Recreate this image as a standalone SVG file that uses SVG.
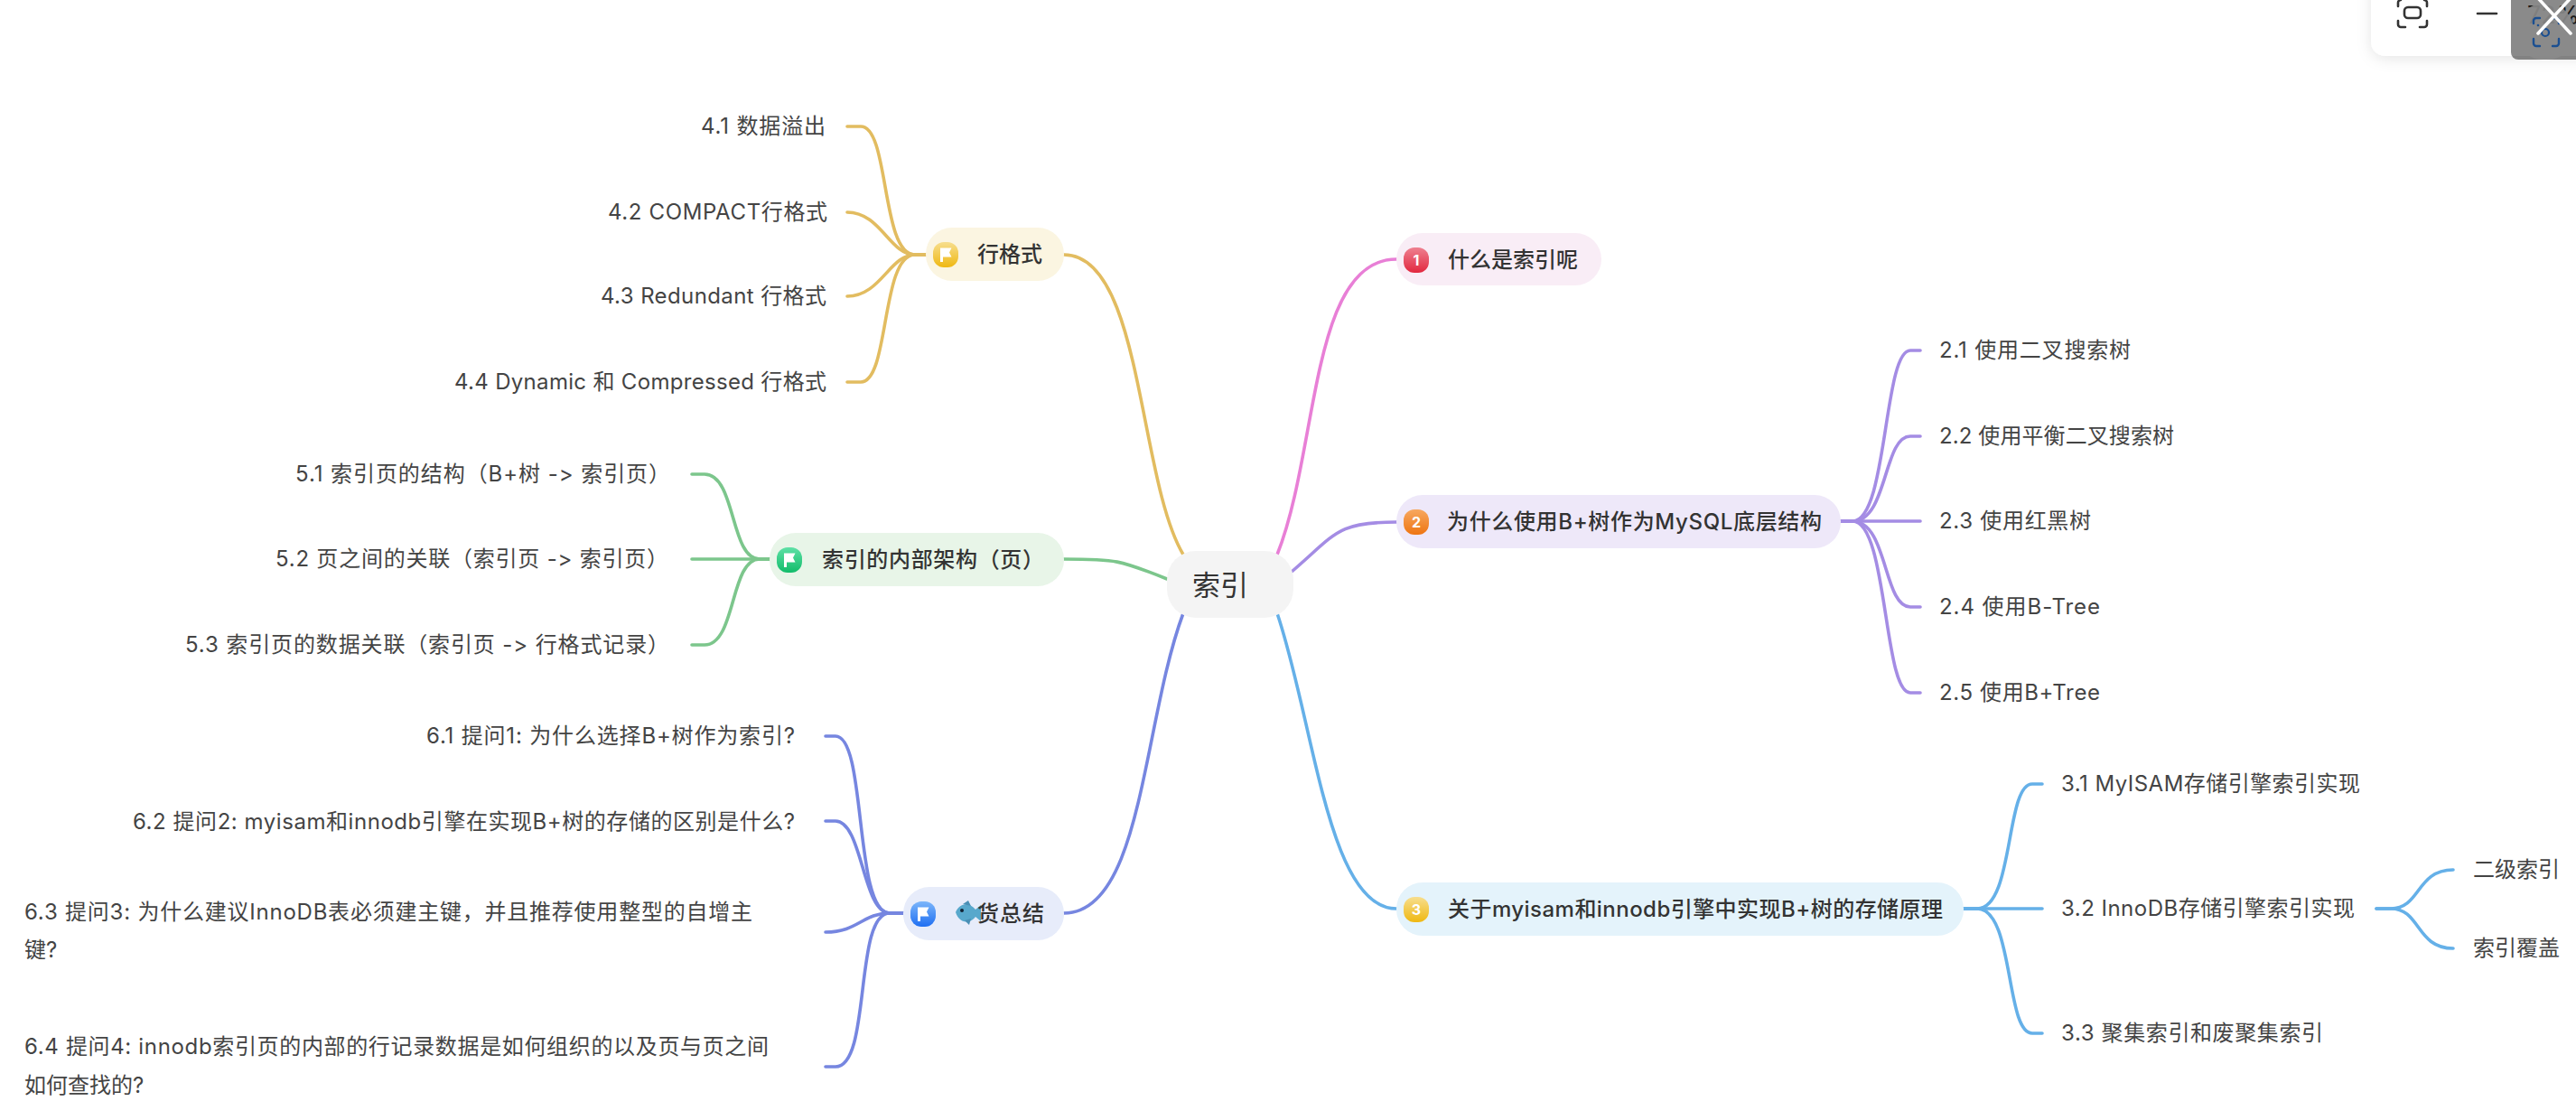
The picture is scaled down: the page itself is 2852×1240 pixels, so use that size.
<svg xmlns="http://www.w3.org/2000/svg" width="2852" height="1240" viewBox="0 0 2852 1240">
<style>
text{font-family:"Inter","Noto Sans CJK SC",sans-serif;fill:#444;font-size:24px;font-feature-settings:"calt" 0,"liga" 0;font-variant-ligatures:none}
.n{font-weight:500;fill:#333}
.c{fill:none;stroke-width:3.6;stroke-linecap:round}
.y{stroke:#E2BC60}.g{stroke:#7CC68C}.i{stroke:#7686E0}.p{stroke:#E87FD6}.v{stroke:#A48CE4}.b{stroke:#65B0E8}
.nt{fill:#fff;font-size:16px;font-weight:700;text-anchor:middle}
</style>
<defs>
<linearGradient id="gy" x1="0" y1="0" x2="0" y2="1"><stop offset="0" stop-color="#F7DE8E"/><stop offset="1" stop-color="#EFB812"/></linearGradient>
<linearGradient id="gg" x1="0" y1="0" x2="0" y2="1"><stop offset="0" stop-color="#5FE0A6"/><stop offset="1" stop-color="#12BC6A"/></linearGradient>
<linearGradient id="gb" x1="0" y1="0" x2="0" y2="1"><stop offset="0" stop-color="#7CB6FA"/><stop offset="1" stop-color="#1F6FF2"/></linearGradient>
<linearGradient id="gr" x1="0" y1="0" x2="0" y2="1"><stop offset="0" stop-color="#EE8090"/><stop offset="1" stop-color="#E2283F"/></linearGradient>
<linearGradient id="go" x1="0" y1="0" x2="0" y2="1"><stop offset="0" stop-color="#F7A860"/><stop offset="1" stop-color="#EE7512"/></linearGradient>
<filter id="sh" x="-20%" y="-50%" width="140%" height="220%"><feDropShadow dx="0" dy="3" stdDeviation="8" flood-color="#000" flood-opacity=".1"/></filter>
<path id="flag" d="M-6 -7.5H6.5L4 -2.5L6.5 2.5H-3V8H-6Z" fill="#fff"/>
</defs>
<rect width="2852" height="1240" fill="#fff"/>

<g id="connectors">
<path class="c y" d="M1178 282C1265 282 1260 530 1310 614"/>
<path class="c y" d="M1025 282H1013C975 282 985 140 953 140H938"/>
<path class="c y" d="M1025 282H1013C985 282 975 235 938 235"/>
<path class="c y" d="M1025 282H1013C985 282 975 328 938 328"/>
<path class="c y" d="M1025 282H1013C975 282 985 423 953 423H938"/>
<path class="c g" d="M1178 619C1235 619 1240 620 1292 641"/>
<path class="c g" d="M852 619H841C808 619 815 525 780 525H766"/>
<path class="c g" d="M852 619H766"/>
<path class="c g" d="M852 619H841C808 619 815 714 780 714H766"/>
<path class="c i" d="M1178 1011C1265 1011 1265 800 1310 679"/>
<path class="c i" d="M1000 1011H985C945 1011 960 815 925 815H914"/>
<path class="c i" d="M1000 1011H985C955 1011 955 909 925 909H914"/>
<path class="c i" d="M1000 1011H985C955 1011 950 1032 914 1032"/>
<path class="c i" d="M1000 1011H985C945 1011 965 1181 925 1181H914"/>
<path class="c p" d="M1414 614C1460 500 1450 287 1546 287"/>
<path class="c v" d="M1430 633C1480 590 1480 578 1546 578"/>
<path class="c v" d="M2038 577H2051C2090 577 2085 388 2115 388H2126"/>
<path class="c v" d="M2038 577H2051C2090 577 2085 483 2115 483H2126"/>
<path class="c v" d="M2038 577H2126"/>
<path class="c v" d="M2038 577H2051C2090 577 2085 672 2115 672H2126"/>
<path class="c v" d="M2038 577H2051C2090 577 2085 767 2115 767H2126"/>
<path class="c b" d="M1414 679C1455 800 1470 1006 1546 1006"/>
<path class="c b" d="M2174 1006H2189C2230 1006 2220 868 2250 868H2261"/>
<path class="c b" d="M2174 1006H2261"/>
<path class="c b" d="M2174 1006H2189C2230 1006 2220 1144 2250 1144H2261"/>
<path class="c b" d="M2631 1006H2647C2680 1006 2675 963 2716 963"/>
<path class="c b" d="M2631 1006H2647C2680 1006 2675 1050 2716 1050"/>
</g>

<g id="root"><rect x="1292" y="610" width="140" height="74" rx="32" fill="#F4F4F4"/><text class="n" x="1320" y="659" style="font-size:31px;font-weight:400">索引</text></g>

<g id="n-hang"><rect x="1025" y="252" width="153" height="59" rx="29" fill="#FBF5E1"/><rect x="1033" y="268" width="28" height="28" rx="12" fill="url(#gy)"/><use href="#flag" x="1047" y="282"/><text class="n" x="1082" y="290">行格式</text></g>
<g id="n-page"><rect x="852" y="590" width="326" height="59" rx="29" fill="#E8F5E8"/><rect x="860" y="606" width="28" height="28" rx="12" fill="url(#gg)"/><use href="#flag" x="874" y="620"/><text class="n" x="910" y="628" textLength="246">索引的内部架构（页）</text></g>
<g id="n-sum"><rect x="1000" y="982" width="178" height="59" rx="29" fill="#E7ECFA"/><rect x="1008" y="998" width="28" height="28" rx="12" fill="url(#gb)"/><use href="#flag" x="1022" y="1012"/>
<path d="M1058 1010C1062 1000 1073 998 1080 1007L1086 1002V1020L1080 1015C1073 1024 1062 1022 1058 1010Z" fill="#58A8CC"/><path d="M1066 1001L1072 997L1075 1003ZM1068 1019L1073 1024L1075 1017Z" fill="#4A8FB5"/><circle cx="1065" cy="1008" r="2" fill="#123"/><text class="n" x="1082" y="1020" textLength="74">货总结</text></g>
<g id="n-1"><rect x="1546" y="258" width="227" height="58" rx="29" fill="#F9EDF6"/><rect x="1554" y="274" width="28" height="28" rx="12" fill="url(#gr)"/><text class="nt" x="1568" y="294">1</text><text class="n" x="1603" y="296">什么是索引呢</text></g>
<g id="n-2"><rect x="1546" y="548" width="492" height="59" rx="29" fill="#EEE8F9"/><rect x="1554" y="564" width="28" height="28" rx="12" fill="url(#go)"/><text class="nt" x="1568" y="584">2</text><text class="n" x="1602" y="586" textLength="415">为什么使用B+树作为MySQL底层结构</text></g>
<g id="n-3"><rect x="1546" y="977" width="628" height="59" rx="29" fill="#E4F3FB"/><rect x="1554" y="993" width="28" height="28" rx="12" fill="url(#gy)"/><text class="nt" x="1568" y="1013">3</text><text class="n" x="1603" y="1015" textLength="548">关于myisam和innodb引擎中实现B+树的存储原理</text></g>

<g id="leaves">
<text id="t41" x="776" y="148" textLength="138">4.1 数据溢出</text>
<text id="t42" x="673" y="243" textLength="243">4.2 COMPACT行格式</text>
<text id="t43" x="665" y="336" textLength="250">4.3 Redundant 行格式</text>
<text id="t44" x="503" y="431" textLength="412">4.4 Dynamic 和 Compressed 行格式</text>
<text id="t51" x="327" y="533" textLength="415">5.1 索引页的结构（B+树 -&gt; 索引页）</text>
<text id="t52" x="305" y="627" textLength="435">5.2 页之间的关联（索引页 -&gt; 索引页）</text>
<text id="t53" x="205" y="722" textLength="536">5.3 索引页的数据关联（索引页 -&gt; 行格式记录）</text>
<text id="t61" x="472" y="823" textLength="408">6.1 提问1: 为什么选择B+树作为索引?</text>
<text id="t62" x="147" y="918" textLength="733">6.2 提问2: myisam和innodb引擎在实现B+树的存储的区别是什么?</text>
<text id="t63a" x="27" y="1018" textLength="806">6.3 提问3: 为什么建议InnoDB表必须建主键，并且推荐使用整型的自增主</text>
<text id="t63b" x="27" y="1060">键?</text>
<text id="t64a" x="27" y="1167" textLength="824">6.4 提问4: innodb索引页的内部的行记录数据是如何组织的以及页与页之间</text>
<text id="t64b" x="27" y="1210">如何查找的?</text>
<text id="t21" x="2147" y="396" textLength="212">2.1 使用二叉搜索树</text>
<text id="t22" x="2147" y="491" textLength="260">2.2 使用平衡二叉搜索树</text>
<text id="t23" x="2147" y="585" textLength="168">2.3 使用红黑树</text>
<text id="t24" x="2147" y="680" textLength="178">2.4 使用B-Tree</text>
<text id="t25" x="2147" y="775" textLength="178">2.5 使用B+Tree</text>
<text id="t31" x="2282" y="876" textLength="331">3.1 MyISAM存储引擎索引实现</text>
<text id="t32" x="2282" y="1014" textLength="325">3.2 InnoDB存储引擎索引实现</text>
<text id="t33" x="2282" y="1152" textLength="290">3.3 聚集索引和废聚集索引</text>
<text id="t321" x="2738" y="971">二级索引</text>
<text id="t322" x="2738" y="1058">索引覆盖</text>
</g>

<g id="toolbar">
<rect x="2625" y="-30" width="260" height="92" rx="16" fill="#fff" filter="url(#sh)"/>
<path d="M2655 7V3a3 3 0 0 1 3-3M2687 7V3a3 3 0 0 0-3-3M2655 23v4a3 3 0 0 0 3 3h5M2687 23v4a3 3 0 0 1-3 3h-5" fill="none" stroke="#333" stroke-width="2.6" stroke-linecap="round"/>
<rect x="2662" y="8" width="18" height="12" rx="4" fill="none" stroke="#333" stroke-width="2.6"/>
<path d="M2743 15H2764" stroke="#333" stroke-width="2.6" stroke-linecap="round"/>
<text x="2798" y="26" style="font-size:27px;fill:#333">72%</text>
<circle cx="2818" cy="35" r="32" fill="#fff" opacity=".9"/>
<path d="M2780 0H2852V66H2788a8 8 0 0 1-8-8Z" fill="#000" opacity=".46"/>
<path d="M2805 26v-3a3 3 0 0 1 3-3h4M2833 26v-3a3 3 0 0 0-3-3h-4M2805 43v5a3 3 0 0 0 3 3h4M2833 43v5a3 3 0 0 1-3 3h-4" fill="none" stroke="#1B4F91" stroke-width="2.4" stroke-linecap="round"/>
<circle cx="2818" cy="36" r="4" fill="none" stroke="#1B4F91" stroke-width="2.2"/><circle cx="2810" cy="28" r="1.3" fill="#1B4F91"/>
<path d="M2810 -2L2846 37M2846 -2L2810 37" stroke="#fff" stroke-width="3.5" stroke-linecap="round"/>
</g>
</svg>
